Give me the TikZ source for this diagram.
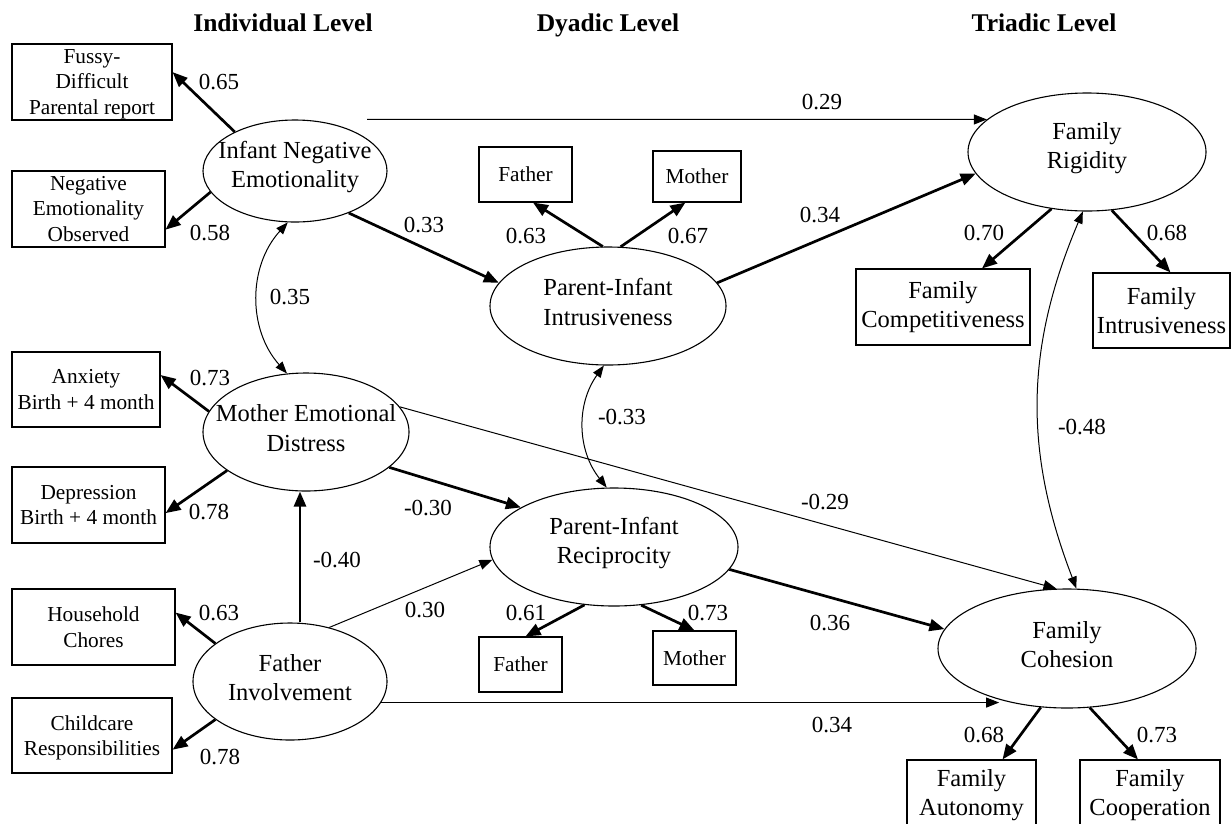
\documentclass[tikz,border=0pt]{standalone}
\usepackage{fontspec}
\setmainfont{Liberation Serif}
\usetikzlibrary{arrows.meta,shapes.geometric}

\newcommand{\fbigtxt}{\fontsize{24.5}{29.5}\selectfont}
\newcommand{\fsmalltxt}{\fontsize{21.3}{25.5}\selectfont}
\newcommand{\flabtxt}{\fontsize{23}{27}\selectfont}
\newcommand{\fheadtxt}{\bfseries\fontsize{25.5}{30}\selectfont}

\begin{document}
\begin{tikzpicture}[x=1pt,y=-1pt,
  lat/.style={ellipse, draw, line width=1.1pt, inner sep=0pt},
  ltext/.style={font=\fbigtxt, align=center, inner sep=0pt, yshift=4pt},
  obs/.style={draw, line width=1.1pt, inner sep=0pt, align=center, font=\fsmalltxt},
  obsbig/.style={obs, font=\fbigtxt},
  lab/.style={font=\flabtxt, inner sep=0pt},
  head/.style={font=\fheadtxt, inner sep=0pt, anchor=base},
  ld/.style={line width=2.7pt, -{Triangle[length=15pt,width=12pt]}},
  thinarr/.style={line width=1pt, -{Triangle[length=13pt,width=10pt]}},
  cov/.style={line width=1pt, {Triangle[length=12pt,width=9pt]}-{Triangle[length=12pt,width=9pt]}}
]
\path[use as bounding box] (0,0) rectangle (1231,823);
\clip (0,0) rectangle (1231,823);

% headers
\node[head] (hind) at (283,31) {Individual Level};
\node[head] (hdya) at (608,31) {Dyadic Level};
\node[head] (htri) at (1044,31) {Triadic Level};

% latent variables
\node[lat, minimum width=184pt, minimum height=102pt, label={[ltext]center:Infant Negative\\Emotionality}] (ine) at (295,171) {};
\node[lat, minimum width=236pt, minimum height=118pt, label={[ltext]center:Parent-Infant\\Intrusiveness}] (pii) at (608,306) {};
\node[lat, minimum width=238pt, minimum height=118pt, label={[ltext]center:Family\\Rigidity}] (fr) at (1087,152) {};
\node[lat, minimum width=206pt, minimum height=118pt, label={[ltext]center:Mother Emotional\\Distress}] (med) at (306,432) {};
\node[lat, minimum width=194pt, minimum height=117pt, label={[ltext]center:Father\\Involvement}] (fi) at (290,681.5) {};
\node[lat, minimum width=248pt, minimum height=118pt, label={[ltext]center:Parent-Infant\\Reciprocity}] (pir) at (614,547) {};
\node[lat, minimum width=258pt, minimum height=119pt, label={[ltext]center:Family\\Cohesion}] (fc) at (1067,648.5) {};

% observed variables, left
\node[obs, text depth=0pt, minimum width=160pt, minimum height=76pt] (fussy) at (92,82) {Fussy-\\Difficult\\Parental report};
\node[obs, minimum width=153pt, minimum height=76pt] (negemo) at (88.5,209) {Negative\\Emotionality\\Observed};
\node[obs, minimum width=148pt, minimum height=75pt] (anx) at (86,389.5) {Anxiety\\Birth + 4 month};
\node[obs, minimum width=153pt, minimum height=76pt] (dep) at (88.5,505) {Depression\\Birth + 4 month};
\node[obs, minimum width=163pt, minimum height=76pt] (chores) at (93.5,627) {Household\\Chores};
\node[obs, text depth=0pt, minimum width=160pt, minimum height=75pt] (care) at (92,735.5) {Childcare\\Responsibilities};

% observed variables, dyadic
\node[obs, minimum width=93pt, minimum height=55pt] (ftop) at (525.5,174.5) {Father};
\node[obs, minimum width=88pt, minimum height=51pt] (mtop) at (697,176.5) {Mother};
\node[obs, minimum width=83pt, minimum height=55pt] (fbot) at (520.5,664.5) {Father};
\node[obs, minimum width=83pt, minimum height=54pt] (mbot) at (694.5,658) {Mother};

% observed variables, triadic
\node[obsbig, minimum width=174pt, minimum height=76pt] (comp) at (943,307) {Family\\Competitiveness};
\node[obsbig, minimum width=137pt, minimum height=75pt] (fint) at (1161.5,310.5) {Family\\Intrusiveness};
\node[obsbig, minimum width=129pt, minimum height=70pt] (auto) at (971.5,795) {Family\\Autonomy};
\node[obsbig, minimum width=140pt, minimum height=70pt] (coop) at (1150,795) {Family\\Cooperation};

% connectors
\draw[ld] (ine.147) -- (fussy.7);
\draw[ld] (ine.-166) -- (negemo.-15);
\draw[thinarr] ([xshift=72pt]ine.north) -- (fr.162);
\draw[ld] (ine.-38) -- (pii.168);
\draw[cov] (ine.-98) to[bend right=42] (med.108);
\draw[ld] (pii.95) -- (ftop.-75);
\draw[ld] (pii.78) -- (mtop.-114);
\draw[ld] (pii.12) -- (fr.191);
\draw[cov] (pii.-94) to[bend right=37] (pir.97);
\draw[ld] (fr.-122) -- ([xshift=39pt]comp.north);
\draw[ld] (fr.-67) -- ([xshift=9pt]fint.north);
\draw[cov] (fr.-94) to[bend right=22] (fc.81);
\draw[ld] (med.168) -- (anx.11);
\draw[ld] (med.-154) -- (dep.-6);
\draw[ld] (med.-23) -- (pir.157);
\draw[thinarr] (med.15) -- (fc.100);
\draw[ld] ([xshift=10pt]fi.north) -- ([xshift=-6pt]med.south);
\draw[ld] (fi.153) -- (chores.10);
\draw[ld] (fi.-153) -- (care.-10);
\draw[thinarr] (fi.54) -- (pir.186);
\draw[thinarr] (fi.-13) -- (fi.-13 -| fc.-143);
\draw[ld] (pir.-117) -- ([xshift=5pt]fbot.north);
\draw[ld] (pir.-65) -- (mbot.north);
\draw[ld] (pir.-11.5) -- (fc.171);
\draw[ld] (fc.-114) -- ([xshift=31pt]auto.north);
\draw[ld] (fc.-69) -- ([xshift=-12pt]coop.north);

% labels
\node[lab] (l1) at (219,82) {0.65};
\node[lab] (l2) at (210,233) {0.58};
\node[lab] (l3) at (822,102) {0.29};
\node[lab] (l4) at (424,225) {0.33};
\node[lab] (l5) at (526,236) {0.63};
\node[lab] (l6) at (688,236) {0.67};
\node[lab] (l7) at (820,215) {0.34};
\node[lab] (l8) at (984,233) {0.70};
\node[lab] (l9) at (1167,233) {0.68};
\node[lab] (l10) at (290,297) {0.35};
\node[lab] (l11) at (210,378) {0.73};
\node[lab] (l12) at (209,512) {0.78};
\node[lab] (l13) at (337,560) {-0.40};
\node[lab] (l14) at (219,613) {0.63};
\node[lab] (l15) at (220,757) {0.78};
\node[lab] (l16) at (622,417) {-0.33};
\node[lab] (l17) at (428,508) {-0.30};
\node[lab] (l18) at (425,610) {0.30};
\node[lab] (l19) at (526,613) {0.61};
\node[lab] (l20) at (708,613) {0.73};
\node[lab] (l21) at (830,623) {0.36};
\node[lab] (l22) at (825,502) {-0.29};
\node[lab] (l23) at (832,725) {0.34};
\node[lab] (l24) at (1082,427) {-0.48};
\node[lab] (l25) at (984,735) {0.68};
\node[lab] (l26) at (1157,735) {0.73};
\end{tikzpicture}
\end{document}
